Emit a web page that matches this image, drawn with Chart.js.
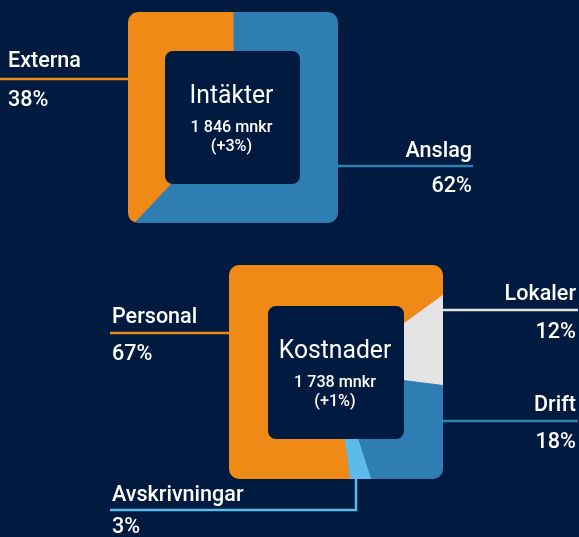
<!DOCTYPE html>
<html><head><meta charset="utf-8">
<script src="https://cdn.jsdelivr.net/npm/chart.js@4/dist/chart.umd.min.js"></script>
<style>
html,body{margin:0;padding:0;background:#011a3f;width:579px;height:537px;overflow:hidden}
canvas{position:absolute;left:0;top:0}
</style></head><body>
<canvas id="c1" width="579" height="537"></canvas>
<canvas id="c2" width="579" height="537"></canvas>
<script>
// ---- data ----
const incomeCategories = ['Anslag', 'Externa'];
const incomeValues = [62, 38];
const costCategories = ['Lokaler', 'Drift', 'Avskrivningar', 'Personal'];
const costValues = [12, 18, 3, 67];
const panelTitles = ['Intäkter', 'Kostnader'];
const panelTotals = ['1 846 mnkr', '1 738 mnkr'];
const panelChanges = ['(+3%)', '(+1%)'];

// ---- styles ----
const NAVY = '#011a3f';
const ORANGE = '#ef8a17';
const BLUE = '#2f7eb3';
const LIGHTBLUE = '#5bbbeb';
const GREY = '#e4e4e4';
const FONT = 'Roboto, "Open Sans", sans-serif';

function roundRect(ctx, x, y, w, h, r) {
  ctx.beginPath();
  ctx.moveTo(x + r, y);
  ctx.arcTo(x + w, y, x + w, y + h, r);
  ctx.arcTo(x + w, y + h, x, y + h, r);
  ctx.arcTo(x, y + h, x, y, r);
  ctx.arcTo(x, y, x + w, y, r);
  ctx.closePath();
}
function txt(ctx, s, x, y, align, size, weight, sx) {
  ctx.save();
  ctx.font = weight + ' ' + size + 'px ' + FONT;
  ctx.textAlign = align;
  ctx.textBaseline = 'alphabetic';
  ctx.fillStyle = '#ffffff';
  ctx.translate(x, y);
  ctx.scale(sx, 1);
  ctx.fillText(s, 0, 0);
  ctx.restore();
}

const squarePie = {
  id: 'squarePie',
  beforeDatasetsDraw(chart, args, o) {
    const ctx = chart.ctx;
    ctx.save();
    roundRect(ctx, o.x, o.y, o.w, o.h, o.r);
    ctx.clip();
  },
  afterDatasetsDraw(chart, args, o) {
    const ctx = chart.ctx;
    ctx.restore();
    // inner panel
    const ix = o.x + o.inset, iy = o.y + o.insetTop;
    ctx.save();
    ctx.fillStyle = NAVY;
    roundRect(ctx, ix, iy, o.iw, o.ih, o.ir);
    ctx.fill();
    ctx.restore();
    const cx = ix + o.iw / 2 - 1, cy = iy + o.ih / 2;
    txt(ctx, panelTitles[o.panel], cx, cy - 15, 'center', 26, 400, 0.95);
    txt(ctx, panelTotals[o.panel], cx, cy + 14.5, 'center', 17, 500, 0.95);
    txt(ctx, panelChanges[o.panel], cx, cy + 33, 'center', 17, 500, 0.95);
    // leaders & labels
    const ds = chart.data.datasets[0];
    o.leaders.forEach((L, i) => {
      const col = ds.backgroundColor[i];
      ctx.save();
      ctx.strokeStyle = col;
      ctx.lineWidth = 2.5;
      ctx.beginPath();
      ctx.moveTo(L.pts[0][0], L.pts[0][1]);
      for (let k = 1; k < L.pts.length; k++) ctx.lineTo(L.pts[k][0], L.pts[k][1]);
      ctx.stroke();
      ctx.restore();
      txt(ctx, chart.data.labels[i], L.tx, L.ny, L.align, 22, 500, 0.98);
      txt(ctx, ds.data[i] + '%', L.tx, L.py, L.align, 22, 500, 0.98);
    });
  }
};

function makePie(id, labels, values, colors, rotation, padding, opts) {
  return new Chart(document.getElementById(id), {
    type: 'pie',
    data: {
      labels: labels,
      datasets: [{
        data: values,
        backgroundColor: colors,
        borderColor: colors,
        borderWidth: 1
      }]
    },
    options: {
      responsive: false,
      animation: false,
      events: [],
      devicePixelRatio: 1,
      rotation: rotation,
      radius: 165,
      layout: { padding: padding },
      plugins: {
        legend: { display: false },
        tooltip: { enabled: false },
        squarePie: opts
      }
    },
    plugins: [squarePie]
  });
}

makePie('c1', incomeCategories, incomeValues, [BLUE, ORANGE], 0,
  { left: 0, right: 113, top: 0, bottom: 302 },
  {
    panel: 0, x: 128, y: 12, w: 210, h: 211, r: 10,
    inset: 37, insetTop: 39, iw: 135, ih: 133, ir: 8,
    leaders: [
      { pts: [[338, 166], [473, 166]], tx: 472, ny: 157, py: 192, align: 'right' },
      { pts: [[0, 79], [128, 79]], tx: 8, ny: 67, py: 106, align: 'left' }
    ]
  });

makePie('c2', costCategories, costValues, [GREY, BLUE, LIGHTBLUE, ORANGE], 54,
  { left: 93, right: 0, top: 207, bottom: 0 },
  {
    panel: 1, x: 229, y: 265, w: 214, h: 214, r: 10,
    inset: 39, insetTop: 41, iw: 136, ih: 133, ir: 8,
    leaders: [
      { pts: [[443, 310], [578, 310]], tx: 576, ny: 300, py: 338, align: 'right' },
      { pts: [[443, 421], [578, 421]], tx: 576, ny: 411, py: 448, align: 'right' },
      { pts: [[110, 510], [356, 510], [356, 479]], tx: 112, ny: 501, py: 533, align: 'left' },
      { pts: [[110, 333], [229, 333]], tx: 112, ny: 323, py: 360, align: 'left' }
    ]
  });
</script>
</body></html>
